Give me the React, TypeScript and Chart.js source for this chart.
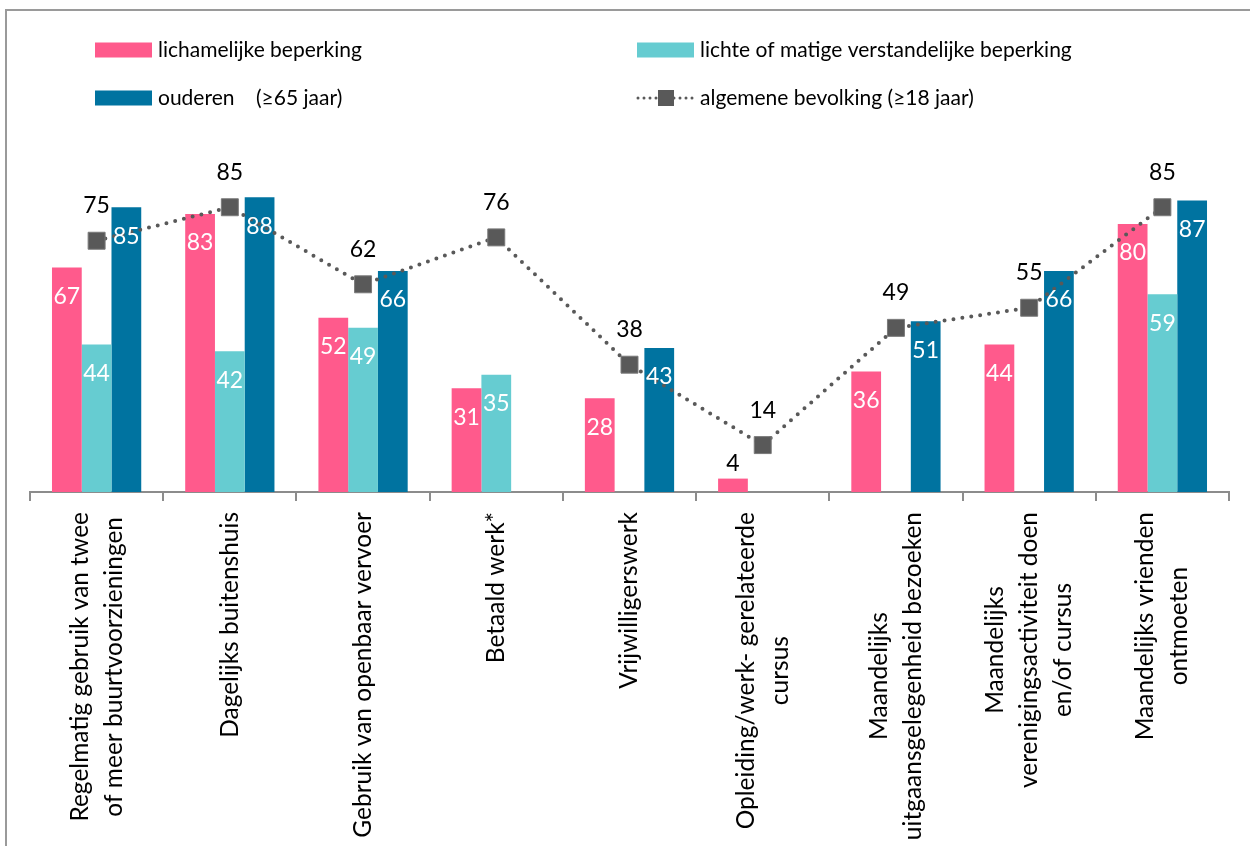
import React, { useEffect, useRef } from "react";
import { Chart, registerables } from "chart.js";

Chart.register(...registerables);

const categories: string[][] = [
  ["Regelmatig gebruik van twee", "of meer buurtvoorzieningen"],
  ["Dagelijks buitenshuis"],
  ["Gebruik van openbaar vervoer"],
  ["Betaald werk*"],
  ["Vrijwilligerswerk"],
  ["Opleiding/werk- gerelateerde", "cursus"],
  ["Maandelijks", "uitgaansgelegenheid bezoeken"],
  ["Maandelijks", "verenigingsactiviteit doen", "en/of cursus"],
  ["Maandelijks vrienden", "ontmoeten"],
];

const lichamelijk: (number | null)[] = [67, 83, 52, 31, 28, 4, 36, 44, 80];
const verstandelijk: (number | null)[] = [44, 42, 49, 35, null, null, null, null, 59];
const ouderen: (number | null)[] = [85, 88, 66, null, 43, null, 51, 66, 87];
const algemeen: (number | null)[] = [75, 85, 62, 76, 38, 14, 49, 55, 85];

const seriesNames = [
  "lichamelijke beperking",
  "lichte of matige verstandelijke beperking",
  "ouderen    (≥65 jaar)",
  "algemene bevolking (≥18 jaar)",
];

const PINK = "#FF5A8C";
const CYAN = "#66CCD1";
const BLUE = "#0073A0";
const GRAY = "#595959";
const FONT = "Lato, 'Open Sans', sans-serif";

const W = 1250;
const H = 846;

const decorPlugin = {
  id: "decor",
  beforeDraw(chart: any) {
    const ctx = chart.ctx;
    ctx.save();
    ctx.fillStyle = "#ffffff";
    ctx.fillRect(0, 0, chart.width, chart.height);
    ctx.strokeStyle = "#9a9a9a";
    ctx.lineWidth = 2;
    ctx.beginPath();
    ctx.moveTo(6, H);
    ctx.lineTo(6, 10);
    ctx.lineTo(W, 10);
    ctx.stroke();
    ctx.restore();
  },
  afterDatasetsDraw(chart: any) {
    const ctx = chart.ctx;
    ctx.save();
    ctx.font = `23px ${FONT}`;
    ctx.textAlign = "center";
    ctx.textBaseline = "middle";
    // bar labels
    chart.data.datasets.forEach((ds: any, di: number) => {
      if (ds.type !== "bar") return;
      const meta = chart.getDatasetMeta(di);
      meta.data.forEach((el: any, i: number) => {
        const v = ds.data[i];
        if (v === null || v === undefined) return;
        if (v < 10) {
          ctx.fillStyle = "#000000";
          ctx.fillText(String(v), el.x, el.y - 15);
        } else {
          ctx.fillStyle = "#ffffff";
          ctx.fillText(String(v), el.x, el.y + 29);
        }
      });
    });
    // line labels
    chart.data.datasets.forEach((ds: any, di: number) => {
      if (ds.type !== "line") return;
      const meta = chart.getDatasetMeta(di);
      meta.data.forEach((el: any, i: number) => {
        const v = ds.data[i];
        if (v === null || v === undefined) return;
        ctx.fillStyle = "#000000";
        ctx.fillText(String(v), el.x, el.y - 35);
      });
    });
    ctx.restore();
  },
  afterDraw(chart: any) {
    const ctx = chart.ctx;
    const xs = chart.scales.x;
    ctx.save();
    // category labels, rotated
    ctx.font = `24.5px ${FONT}`;
    ctx.fillStyle = "#000000";
    ctx.textAlign = "center";
    ctx.textBaseline = "middle";
    const lh = 34;
    categories.forEach((lines, i) => {
      const cx = xs.getPixelForValue(i);
      const maxW = Math.max(...lines.map((l) => ctx.measureText(l).width));
      ctx.save();
      ctx.translate(cx, 512);
      ctx.rotate(-Math.PI / 2);
      lines.forEach((l, j) => {
        ctx.fillText(l, -maxW / 2, (j - (lines.length - 1) / 2) * lh);
      });
      ctx.restore();
    });
    // legend
    ctx.font = `21px ${FONT}`;
    ctx.textAlign = "left";
    ctx.textBaseline = "middle";
    ctx.fillStyle = "#000000";
    const items = [
      { x: 95, y: 50, kind: "box", color: PINK, label: seriesNames[0] },
      { x: 637, y: 50, kind: "box", color: CYAN, label: seriesNames[1] },
      { x: 95, y: 98, kind: "box", color: BLUE, label: seriesNames[2] },
      { x: 637, y: 98, kind: "line", color: GRAY, label: seriesNames[3] },
    ];
    items.forEach((it) => {
      if (it.kind === "box") {
        ctx.fillStyle = it.color;
        ctx.fillRect(it.x, it.y - 7.5, 57, 15);
      } else {
        ctx.strokeStyle = it.color;
        ctx.lineWidth = 3;
        ctx.lineCap = "round";
        ctx.setLineDash([0, 6]);
        ctx.beginPath();
        ctx.moveTo(it.x + 1, it.y);
        ctx.lineTo(it.x + 57, it.y);
        ctx.stroke();
        ctx.setLineDash([]);
        ctx.fillStyle = it.color;
        ctx.fillRect(it.x + 21, it.y - 8, 16, 16);
      }
      ctx.fillStyle = "#000000";
      ctx.fillText(it.label, it.x + 63, it.y);
    });
    ctx.restore();
  },
};

export default function App() {
  const ref = useRef<HTMLCanvasElement | null>(null);
  useEffect(() => {
    if (!ref.current) return;
    const labels = categories.map((c) => c.join(" "));
    const chart = new Chart(ref.current, {
      type: "bar",
      data: {
        labels,
        datasets: [
          {
            type: "line",
            label: seriesNames[3],
            data: algemeen,
            borderColor: GRAY,
            borderWidth: 4,
            borderDash: [0, 9],
            borderCapStyle: "round",
            pointStyle: "rect",
            pointRadius: 12,
            pointHoverRadius: 12,
            pointBackgroundColor: GRAY,
            pointBorderColor: "#7a7a7a",
            pointBorderWidth: 1,
            tension: 0,
            fill: false,
          } as any,
          {
            type: "bar",
            label: seriesNames[0],
            data: lichamelijk,
            backgroundColor: PINK,
          },
          {
            type: "bar",
            label: seriesNames[1],
            data: verstandelijk,
            backgroundColor: CYAN,
          },
          {
            type: "bar",
            label: seriesNames[2],
            data: ouderen,
            backgroundColor: BLUE,
          },
        ],
      },
      options: {
        responsive: false,
        animation: false,
        maintainAspectRatio: false,
        layout: { padding: { top: 157, left: 30, right: 21, bottom: 0 } },
        datasets: { bar: { barPercentage: 1, categoryPercentage: 0.67 } } as any,
        plugins: {
          legend: { display: false },
          tooltip: { enabled: false },
        },
        scales: {
          x: {
            offset: true,
            grid: {
              offset: true,
              drawOnChartArea: false,
              drawTicks: true,
              tickLength: 9,
              color: "#8c8c8c",
              lineWidth: 2,
            },
            border: { display: true, color: "#8c8c8c", width: 2 },
            ticks: { display: false },
            afterFit: (s: any) => {
              s.height = H - 492;
            },
          },
          y: {
            display: false,
            min: 0,
            max: 100,
          },
        },
      },
      plugins: [decorPlugin],
    });
    return () => chart.destroy();
  }, []);
  return (
    <div style={{ position: "absolute", left: 0, top: 0, width: W, height: H, background: "#fff" }}>
      <canvas ref={ref} width={W} height={H} style={{ width: W, height: H, display: "block" }} />
    </div>
  );
}
